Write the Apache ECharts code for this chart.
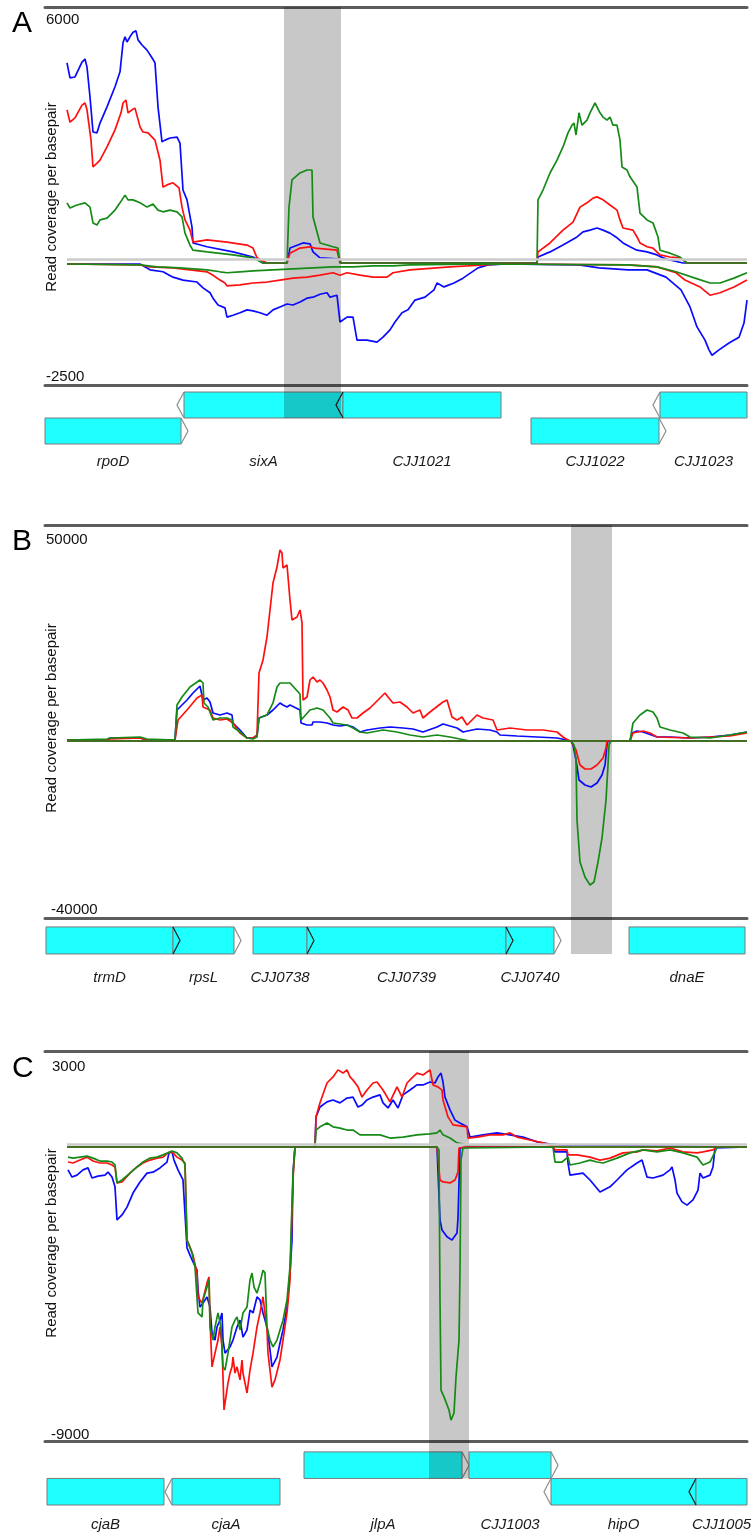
<!DOCTYPE html>
<html>
<head>
<meta charset="utf-8">
<script src="https://cdn.jsdelivr.net/npm/echarts@6/dist/echarts.min.js"></script>
<style>
  body{margin:0;background:#fff;}
  #main{width:753px;height:1536px;}
</style>
</head>
<body>
<div id="main"></div>
<script>
// x = position along the window (0..702), y = read coverage per basepair
// panel A
var aBluePos=[[22,4690],[25,4340],[30,4360],[37,4710],[40,4780],[42,4590],[45,3890],[48,3070],[52,3050],[55,3280],[62,3660],[70,4130],[75,4480],[78,5160],[80,5300],[82,5180],[86,5340],[88,5410],[91,5440],[93,5230],[97,5110],[102,4990],[107,4810],[110,4690],[113,3660],[117,2840],[120,2880],[125,2930],[132,2950],[135,2810],[138,1710],[142,1480],[147,840],[148,470],[162,380],[188,260],[208,140],[218,0],[242,0],[245,350],[258,470],[265,450],[268,260],[275,120],[295,90],[296,0],[492,0],[493,140],[505,260],[518,420],[532,610],[538,730],[545,770],[552,820],[558,770],[565,700],[572,590],[578,470],[585,380],[592,300],[602,260],[612,190],[618,120],[625,70],[638,0],[702,0]];
var aRedPos=[[22,3590],[25,3300],[30,3400],[37,3700],[40,3750],[42,3590],[46,2880],[48,2250],[52,2340],[55,2410],[62,2720],[70,3120],[76,3520],[78,3750],[81,3820],[83,3520],[87,3590],[90,3630],[95,3190],[98,3070],[103,3050],[110,2880],[115,2410],[118,1780],[122,1830],[128,1880],[134,1760],[137,1310],[140,1010],[145,770],[148,490],[162,540],[182,490],[202,420],[208,350],[212,120],[222,0],[242,0],[245,230],[255,350],[265,380],[270,350],[292,300],[295,0],[492,0],[493,260],[505,470],[518,770],[528,960],[535,1310],[542,1410],[548,1520],[552,1550],[558,1480],[565,1360],[572,1240],[575,1010],[578,820],[588,770],[592,610],[595,470],[602,380],[608,350],[615,190],[625,140],[635,120],[642,0],[702,0]];
var aGreenPos=[[22,1410],[25,1290],[32,1360],[40,1410],[45,1310],[48,940],[52,890],[55,1010],[62,1050],[70,1240],[75,1410],[80,1590],[83,1480],[88,1480],[95,1410],[102,1310],[108,1380],[113,1240],[118,1200],[125,1240],[132,1200],[137,1080],[140,700],[145,420],[148,300],[162,260],[188,190],[208,120],[218,0],[242,0],[244,1310],[247,1950],[255,2110],[262,2180],[267,2180],[268,1080],[275,470],[288,380],[293,350],[295,0],[492,0],[493,1480],[498,1710],[505,2110],[512,2410],[518,2720],[523,3050],[527,3230],[529,3280],[531,3000],[534,3520],[537,3230],[542,3350],[545,3520],[550,3750],[555,3520],[558,3420],[562,3350],[565,3420],[568,3230],[572,3230],[575,2880],[577,2250],[582,2180],[585,2020],[592,1780],[595,1170],[602,1010],[608,940],[613,610],[615,300],[625,230],[635,140],[642,0],[702,0]];
var aBlueNeg=[[22,-20],[95,-20],[105,-140],[118,-180],[128,-290],[138,-350],[152,-390],[158,-510],[165,-610],[168,-720],[173,-860],[180,-920],[182,-1110],[188,-1070],[195,-1020],[202,-960],[208,-980],[215,-1020],[222,-1070],[228,-960],[235,-900],[242,-840],[248,-860],[255,-800],[262,-720],[268,-700],[275,-640],[282,-610],[285,-700],[292,-660],[295,-1210],[302,-1110],[308,-1110],[312,-1580],[322,-1580],[332,-1620],[338,-1520],[345,-1370],[350,-1210],[357,-1020],[363,-960],[370,-760],[380,-700],[389,-550],[392,-410],[399,-490],[409,-410],[418,-310],[433,-100],[443,-40],[462,-20],[534,-40],[554,-100],[583,-140],[602,-140],[621,-290],[636,-550],[645,-900],[652,-1310],[660,-1580],[664,-1780],[667,-1890],[674,-1780],[684,-1640],[694,-1520],[699,-1230],[702,-760]];
var aRedNeg=[[22,-20],[95,-40],[105,-80],[128,-100],[162,-180],[168,-250],[175,-350],[180,-410],[182,-470],[195,-450],[208,-410],[222,-390],[235,-350],[248,-310],[262,-290],[275,-250],[288,-200],[295,-250],[302,-200],[315,-250],[328,-290],[342,-290],[348,-200],[365,-140],[405,-80],[457,-20],[583,-40],[612,-80],[631,-200],[640,-350],[655,-490],[665,-660],[675,-610],[689,-490],[702,-350]];
var aGreenNeg=[[22,-20],[95,-40],[112,-80],[135,-100],[162,-140],[175,-180],[182,-200],[195,-180],[208,-160],[228,-140],[248,-120],[268,-100],[288,-80],[308,-80],[328,-60],[348,-60],[365,-40],[438,-20],[583,-40],[612,-80],[631,-180],[650,-310],[665,-410],[675,-410],[689,-310],[702,-200]];

// panel B
var bBluePos=[[22,230],[62,230],[65,690],[95,690],[102,230],[130,230],[132,7180],[135,7870],[142,9490],[148,11110],[155,12730],[157,12500],[158,9490],[162,9950],[165,9030],[168,6480],[175,6020],[182,6480],[187,6020],[188,4170],[195,2550],[202,690],[208,690],[212,1160],[214,5320],[222,6020],[228,7180],[235,8800],[238,8330],[242,7870],[245,8330],[255,7180],[256,4170],[262,3700],[267,3700],[268,4400],[275,4400],[282,4170],[288,3700],[295,3470],[302,3700],[308,3240],[315,2080],[322,2550],[335,3010],[345,3240],[358,3010],[368,2780],[378,2080],[392,3240],[398,3940],[405,3470],[412,3010],[418,2080],[432,2780],[445,2550],[452,2080],[455,1390],[472,1160],[492,930],[512,690],[522,230],[526,0],[585,0],[587,1850],[592,2320],[598,2080],[612,930],[625,930],[645,690],[665,930],[685,1390],[702,2080]];
var bRedPos=[[22,230],[62,230],[65,460],[95,690],[102,230],[130,230],[133,4860],[142,7180],[152,9950],[157,10650],[158,7870],[165,7180],[168,5320],[175,4860],[182,5090],[188,4170],[195,1850],[202,690],[208,690],[212,1390],[214,15740],[218,18750],[222,24080],[225,30330],[228,36580],[232,40280],[235,44220],[237,43520],[238,40050],[242,40740],[243,40280],[245,32640],[247,28010],[252,28710],[255,30330],[257,27320],[258,9490],[262,10190],[265,14120],[268,14820],[272,13660],[275,14120],[278,13430],[282,11810],[285,10190],[288,7180],[292,6710],[298,7870],[303,7180],[307,5320],[312,5320],[318,6480],[325,7640],[332,9260],[340,11110],[343,10190],[348,8800],[355,9030],[362,7870],[368,6480],[375,7180],[378,5320],[385,6710],[398,9030],[402,9490],[407,5560],[412,4860],[417,5560],[422,3700],[432,6020],[438,5320],[448,4860],[452,2550],[465,3010],[482,2550],[498,2550],[512,2080],[518,930],[523,230],[526,0],[585,0],[588,1850],[598,2320],[605,1850],[612,930],[645,690],[665,930],[685,1160],[702,1850]];
var bGreenPos=[[22,230],[62,460],[65,690],[95,930],[102,460],[130,230],[132,8330],[137,10190],[145,12500],[155,14120],[158,13430],[159,8800],[163,7870],[168,4860],[175,5320],[182,5320],[187,4860],[188,3240],[195,2080],[202,690],[208,460],[212,930],[214,5320],[222,6020],[228,8800],[232,12500],[235,13430],[245,13430],[255,10880],[256,4860],[258,5090],[265,7180],[272,7640],[278,7180],[285,5320],[288,4170],[302,3700],[308,3010],[315,2080],[322,1850],[338,2550],[352,2080],[365,1390],[378,930],[392,1390],[405,930],[415,460],[425,0],[585,0],[588,4170],[595,6020],[602,7180],[608,6710],[612,5320],[615,3240],[625,2550],[638,1850],[645,930],[665,690],[685,1390],[702,2080]];
var bBlueNeg=[[22,0],[526,0],[528,-900],[531,-4290],[534,-8810],[540,-9940],[546,-10400],[552,-9490],[557,-7680],[560,-5420],[562,-900],[563,0],[702,0]];
var bRedNeg=[[22,0],[526,0],[528,-450],[531,-2030],[535,-5420],[540,-6330],[546,-6330],[552,-5420],[558,-3840],[561,-1580],[562,0],[702,0]];
var bGreenNeg=[[22,0],[526,0],[529,-900],[531,-4290],[532,-17850],[535,-27350],[540,-30740],[545,-32540],[549,-31870],[553,-27350],[557,-21920],[561,-13330],[563,-5420],[564,-900],[566,0],[702,0]];

// panel C
var cBluePos=[[22,0],[270,0],[271,940],[275,1250],[282,1410],[288,1470],[295,1380],[302,1530],[308,1560],[313,1250],[317,1310],[322,1470],[328,1560],[335,1630],[338,1380],[343,1220],[348,1470],[353,1220],[358,1630],[365,1780],[372,1940],[378,1940],[385,2030],[390,2000],[393,2190],[396,2310],[398,2030],[400,1560],[405,1160],[410,840],[415,750],[422,630],[425,310],[438,380],[452,440],[465,380],[478,310],[492,160],[505,90],[518,60],[520,0],[702,0]];
var cRedPos=[[22,0],[270,0],[271,940],[275,1380],[282,2000],[288,2190],[293,2410],[298,2310],[302,2410],[305,2190],[308,2090],[313,1880],[317,1560],[322,1780],[328,2000],[332,2030],[338,1780],[345,1410],[352,1880],[357,1560],[362,2000],[367,2160],[372,2310],[378,2250],[385,2410],[388,1940],[393,1880],[397,1780],[398,1470],[403,940],[408,690],[422,630],[423,280],[432,310],[445,380],[458,380],[465,440],[472,310],[485,220],[498,130],[508,30],[518,0],[702,0]];
var cGreenPos=[[22,0],[270,0],[271,530],[275,630],[282,750],[288,630],[295,590],[302,530],[308,530],[315,380],[322,380],[335,380],[345,280],[358,310],[372,380],[385,410],[392,440],[395,530],[398,380],[405,280],[412,130],[418,90],[425,30],[512,0],[702,0]];
var cBlueNeg=[[23,-700],[27,-920],[32,-860],[38,-700],[43,-640],[47,-950],[53,-890],[60,-860],[63,-770],[67,-920],[70,-1220],[72,-2230],[77,-2080],[82,-1840],[88,-1410],[95,-1070],[102,-800],[108,-770],[115,-640],[122,-460],[124,-180],[127,-150],[129,-400],[133,-700],[138,-1010],[140,-1070],[142,-3090],[145,-3310],[148,-3520],[152,-3770],[153,-4380],[155,-4900],[158,-4780],[162,-4590],[165,-4900],[167,-5690],[170,-5910],[172,-5510],[175,-5300],[177,-5080],[178,-5910],[180,-6310],[185,-6120],[188,-5910],[192,-5510],[195,-5300],[198,-5820],[202,-5600],[205,-4990],[208,-5080],[212,-4590],[215,-4680],[218,-5080],[222,-5510],[225,-6210],[227,-6730],[232,-6430],[235,-6000],[238,-5600],[242,-4900],[245,-3860],[247,-2850],[248,-800],[250,0],[392,0],[393,-30],[395,-2230],[397,-2540],[402,-2750],[407,-2850],[412,-2630],[413,-2170],[415,-30],[425,0],[508,0],[510,-150],[522,-150],[523,-490],[525,-860],[538,-800],[545,-1010],[555,-1380],[565,-1220],[572,-1010],[582,-700],[592,-490],[597,-400],[602,-920],[608,-950],[618,-860],[625,-700],[627,-610],[630,-1010],[632,-1410],[637,-1680],[642,-1780],[648,-1620],[653,-1320],[655,-800],[658,-950],[665,-860],[668,-610],[670,-30],[672,0],[702,0]];
var cRedNeg=[[23,-460],[28,-490],[35,-400],[42,-310],[48,-430],[55,-490],[62,-490],[67,-550],[70,-610],[72,-1100],[77,-1070],[85,-800],[92,-610],[98,-490],[105,-400],[112,-340],[118,-310],[123,-180],[127,-150],[132,-310],[137,-400],[140,-490],[142,-2850],[145,-3060],[148,-3310],[152,-3860],[153,-4590],[157,-4780],[162,-4160],[164,-3980],[165,-5300],[167,-6730],[170,-6310],[173,-5910],[175,-5510],[177,-6120],[178,-7040],[179,-8050],[183,-7220],[185,-6920],[187,-6730],[188,-6430],[190,-6920],[192,-6730],[195,-7130],[197,-6520],[198,-6920],[202,-7530],[205,-6830],[208,-6310],[212,-5510],[215,-5080],[218,-4590],[222,-5600],[223,-6310],[227,-7350],[230,-7130],[235,-6520],[238,-5910],[242,-5080],[245,-4070],[248,-1010],[250,0],[392,0],[395,-1010],[398,-1070],[405,-1100],[410,-1010],[413,-770],[414,-30],[420,0],[508,0],[510,-90],[522,-90],[523,-240],[532,-240],[545,-310],[555,-400],[565,-340],[578,-180],[592,-150],[598,-90],[612,-120],[625,-30],[638,-150],[652,-180],[658,-150],[668,-90],[672,0],[702,0]];
var cGreenNeg=[[23,-310],[28,-340],[35,-310],[42,-280],[48,-340],[55,-430],[62,-430],[67,-460],[70,-550],[72,-1100],[77,-1010],[85,-800],[92,-610],[98,-460],[105,-340],[112,-310],[118,-240],[123,-180],[127,-120],[132,-180],[137,-340],[140,-550],[142,-2850],[147,-3240],[150,-3670],[153,-5080],[157,-5200],[158,-4680],[162,-4290],[164,-4070],[165,-5510],[168,-5910],[170,-5510],[173,-5080],[176,-5510],[178,-6730],[180,-6830],[183,-6310],[187,-5510],[190,-5300],[192,-5200],[195,-5600],[198,-5080],[202,-4900],[205,-4070],[207,-3860],[209,-4290],[212,-4470],[215,-4160],[218,-3770],[220,-3860],[222,-5510],[225,-5910],[228,-6120],[232,-5910],[235,-5600],[238,-5300],[242,-4680],[245,-3670],[248,-800],[250,0],[392,0],[394,-90],[395,-4680],[396,-7440],[399,-7650],[404,-8050],[406,-8360],[409,-8140],[411,-7040],[414,-5910],[415,-3770],[416,-400],[418,-30],[420,0],[508,0],[510,-460],[517,-460],[523,-310],[525,-550],[535,-490],[545,-400],[552,-460],[558,-490],[572,-340],[585,-180],[598,-90],[612,-150],[625,-90],[638,-180],[652,-310],[658,-550],[665,-460],[670,-150],[672,0],[702,0]];

// genes: name, start, end, strand (1 / -1 / 0 = runs off the window), row
var genesA=[['rpoD',0,136,1,1],['sixA',139,298,-1,0],['CJJ1021',298,456,-1,0],['CJJ1022',486,614,1,1],['CJJ1023',615,702,-1,0]];
var genesB=[['trmD',1,128,1,0],['rpsL',128,189,1,0],['CJJ0738',208,262,1,0],['CJJ0739',262,461,1,0],['CJJ0740',461,509,1,0],['dnaE',584,700,0,0]];
var genesC=[['cjaB',2,119,0,1],['cjaA',127,235,-1,1],['jlpA',259,417,1,0],['CJJ1003',424,506,1,0],['hipO',506,651,-1,1],['CJJ1005',651,702,-1,1]];

// highlighted regions
var shadeA=[239,296];
var shadeB=[526,567];
var shadeC=[384,424];

// axis end labels
var yTopLabels=[6000,50000,3000];
var yBottomLabels=[-2500,-40000,-9000];
var panelLetters=['A','B','C'];
var yTitle='Read coverage per basepair';

var FONT='"Liberation Sans", Arial, sans-serif';
var BLUE='#0a0aff', RED='#ff1010', GREEN='#168a16';

// layout of every panel (pixels)
var layout=[
  {top:7, posH:256, negH:122, geneH:59, gap:0.27, labelOff:18, topLH:26, botLH:16, topM:1, botM:1, sep:80, titleY:197, letterY:9},
  {top:525, posH:216, negH:177, geneH:63, gap:0.33, labelOff:-3, topLH:30, botLH:16, topM:1, botM:6, sep:null, titleY:718, letterY:527},
  {top:1051, posH:96, negH:294, geneH:64, gap:0.41, labelOff:20, topLH:32, botLH:13, topM:7, botM:6, sep:90, titleY:1243, letterY:1054}
];
var posData=[[aBluePos,aRedPos,aGreenPos],[bBluePos,bRedPos,bGreenPos],[cBluePos,cRedPos,cGreenPos]];
var negData=[[aBlueNeg,aRedNeg,aGreenNeg],[bBlueNeg,bRedNeg,bGreenNeg],[cBlueNeg,cRedNeg,cGreenNeg]];
var genes=[genesA,genesB,genesC];
var shades=[shadeA,shadeB,shadeC];
var colors=[BLUE,RED,GREEN];

// 画基因框
var geneRender=function(list,labelOff){
  return function(params,api){
    var g=list[params.dataIndex];
    var s=api.coord([g[1],g[4]]);
    var e=api.coord([g[2],g[4]+1]);
    var h=e[1]-s[1];
    var kids=[{
      type:'rect',
      z2:0,
      shape:{x:s[0],y:s[1],width:e[0]-s[0],height:h},
      style:{fill:'#1effff',stroke:'#7a7a7a',lineWidth:1}
    }];
    if(g[3]!==0){
      var at=g[3]>0?g[2]:g[1];
      var bx=g[3]>0?e[0]:s[0];
      // head sitting on the next box is drawn dark
      var covered=list.some(function(o){
        return o!==g&&o[4]===g[4]&&o[1]<=at&&o[2]>=at;
      });
      kids.push({
        type:'polyline',
        z2:10,
        shape:{points:[[bx,s[1]],[bx+g[3]*7,s[1]+h/2],[bx,e[1]]]},
        style:{stroke:covered?'#1a1a1a':'#8c8c8c',fill:null,lineWidth:1.2}
      });
    }
    var cs=params.coordSys;
    kids.push({
      type:'text',
      z2:10,
      style:{text:g[0],x:(s[0]+e[0])/2,y:cs.y+cs.height+labelOff,align:'center',verticalAlign:'middle',
        font:'italic 15px '+FONT,fill:'#1a1a1a'}
    });
    return {type:'group',children:kids};
  };
};

// 灰色高亮区
var shadeRender=function(toRow){
  return function(params,api){
    var cs=params.coordSys;
    var a=api.coord([api.value(0),0]);
    var b=api.coord([api.value(1),0]);
    var y1=toRow?api.coord([0,1])[1]:cs.y+cs.height;
    return {type:'rect',shape:{x:a[0],y:cs.y,width:b[0]-a[0],height:y1-cs.y},style:{fill:'rgba(0,0,0,0.215)'}};
  };
};

var grids=[],xAxes=[],yAxes=[],series=[],graphics=[];
var rule={show:true,onZero:false,lineStyle:{color:'#5c5c5c',width:3}};

layout.forEach(function(L,p){
  var gi=p*3;
  grids.push({left:45,right:6,top:L.top,height:L.posH});
  grids.push({left:45,right:6,top:L.top+L.posH,height:L.negH});
  grids.push({left:45,right:6,top:L.top+L.posH+L.negH,height:L.geneH});

  xAxes.push({gridIndex:gi,type:'value',min:0,max:702,position:'top',axisLine:rule,axisTick:{show:false},axisLabel:{show:false},splitLine:{show:false}});
  xAxes.push({gridIndex:gi+1,type:'value',min:0,max:702,position:'bottom',axisLine:rule,axisTick:{show:false},axisLabel:{show:false},splitLine:{show:false}});
  xAxes.push({gridIndex:gi+2,type:'value',min:0,max:702,show:false});

  var yTop=yTopLabels[p],yBot=yBottomLabels[p];
  yAxes.push({gridIndex:gi,type:'value',min:0,max:yTop,interval:yTop,
    axisLine:{show:false},axisTick:{show:false},splitLine:{show:false},
    axisLabel:{inside:true,margin:L.topM,verticalAlign:'top',lineHeight:L.topLH,fontSize:15,fontFamily:FONT,color:'#111',
      formatter:function(v){return v===yTop?String(v):'';}}});
  yAxes.push({gridIndex:gi+1,type:'value',min:yBot,max:0,interval:-yBot,
    axisLine:{show:false},axisTick:{show:false},splitLine:{show:false},
    axisLabel:{inside:true,margin:L.botM,verticalAlign:'bottom',lineHeight:L.botLH,fontSize:15,fontFamily:FONT,color:'#111',
      formatter:function(v){return v===yBot?String(v):'';}}});
  yAxes.push({gridIndex:gi+2,type:'value',min:-L.gap,max:2,inverse:true,show:false});

  // shading
  [gi,gi+1].forEach(function(k){
    series.push({type:'custom',xAxisIndex:k,yAxisIndex:k,renderItem:shadeRender(false),data:[shades[p]],encode:{x:[0,1]},z:1,silent:true});
  });
  series.push({type:'custom',xAxisIndex:gi+2,yAxisIndex:gi+2,renderItem:shadeRender(true),data:[shades[p]],encode:{x:[0,1]},z:4,silent:true});

  // coverage lines
  posData[p].forEach(function(d,i){
    var s={type:'line',xAxisIndex:gi,yAxisIndex:gi,data:d,symbol:'none',clip:false,
      lineStyle:{color:colors[i],width:1.7},itemStyle:{color:colors[i]},z:3,silent:true};
    if(i===0&&L.sep!==null){
      s.markLine={silent:true,symbol:['none','none'],label:{show:false},
        lineStyle:{color:'#cbcbcb',width:2.5,type:'solid'},
        data:[[{coord:[22,L.sep]},{coord:[702,L.sep]}]]};
    }
    series.push(s);
  });
  negData[p].forEach(function(d,i){
    series.push({type:'line',xAxisIndex:gi+1,yAxisIndex:gi+1,data:d,symbol:'none',clip:false,
      lineStyle:{color:colors[i],width:1.7},itemStyle:{color:colors[i]},z:3,silent:true});
  });

  // genes
  series.push({type:'custom',xAxisIndex:gi+2,yAxisIndex:gi+2,renderItem:geneRender(genes[p],L.labelOff),
    data:genes[p].map(function(g){return [g[1],g[2],g[3],g[4]];}),encode:{x:[0,1],y:3},clip:false,z:2,silent:true});

  graphics.push({type:'text',x:12,y:L.letterY,style:{text:panelLetters[p],font:'30px '+FONT,fill:'#000',verticalAlign:'top'}});
  graphics.push({type:'text',x:52,y:L.titleY,rotation:Math.PI/2,style:{text:yTitle,font:'15px '+FONT,fill:'#111',align:'center',verticalAlign:'middle'}});
});

var chart=echarts.init(document.getElementById('main'),null,{renderer:'canvas'});
chart.setOption({
  animation:false,
  backgroundColor:'#fff',
  grid:grids,
  xAxis:xAxes,
  yAxis:yAxes,
  series:series,
  graphic:graphics
});
</script>
</body>
</html>
